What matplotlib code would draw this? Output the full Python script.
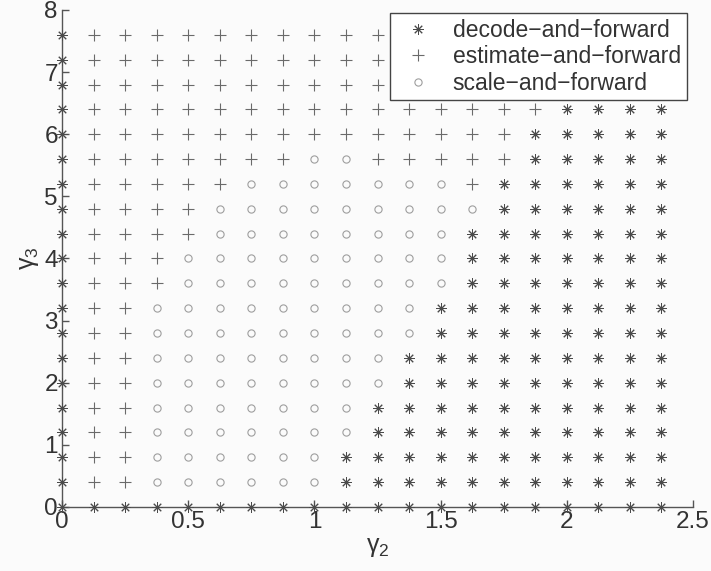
import matplotlib
matplotlib.use("Agg")
import matplotlib.pyplot as plt
import numpy as np

plt.rcParams['font.family'] = ['Liberation Sans', 'DejaVu Sans']
plt.rcParams['mathtext.fontset'] = 'custom'
plt.rcParams['mathtext.rm'] = 'Liberation Sans'
plt.rcParams['mathtext.it'] = 'Liberation Sans'

# grid of (gamma_2, gamma_3) values
gamma2 = [0, 0.125, 0.25, 0.375, 0.5, 0.625, 0.75, 0.875, 1.0, 1.125,
          1.25, 1.375, 1.5, 1.625, 1.75, 1.875, 2.0, 2.125, 2.25, 2.375]
gamma3 = [7.6, 7.2, 6.8, 6.4, 6.0, 5.6, 5.2, 4.8, 4.4, 4.0,
          3.6, 3.2, 2.8, 2.4, 2.0, 1.6, 1.2, 0.8, 0.4, 0.0]

# best scheme per grid point, one string per gamma3 row (top row first)
# D = decode-and-forward, E = estimate-and-forward, S = scale-and-forward
best_scheme = [
    "D EEEEEEEEEEEEEEEE DDD",
    "D EEEEEEEEEEEEEEEE DDD",
    "D EEEEEEEEEEEEEEEE DDD",
    "D EEEEEEEEEEEEEEE DDDD",
    "D EEEEEEEEEEEEEE DDDDD",
    "D EEEEEEE SS EEEEE DDDDD",
    "D EEEEE SSSSSSS E DDDDDD",
    "D EEEE SSSSSSSSS DDDDDD",
    "D EEEE SSSSSSSS DDDDDDD",
    "D EEE SSSSSSSSS DDDDDDD",
    "D EEE SSSSSSSSS DDDDDDD",
    "D EE SSSSSSSSS DDDDDDDD",
    "D EE SSSSSSSSS DDDDDDDD",
    "D EE SSSSSSSS DDDDDDDDD",
    "D EE SSSSSSSS DDDDDDDDD",
    "D EE SSSSSSS DDDDDDDDDD",
    "D EE SSSSSSS DDDDDDDDDD",
    "D EE SSSSSS DDDDDDDDDDD",
    "D EE SSSSSS DDDDDDDDDDD",
    "DDDDDDDDDDDDDDDDDDDD",
]
best_scheme = [r.replace(' ', '') for r in best_scheme]

labels = {'D': 'decode\u2212and\u2212forward',
          'E': 'estimate\u2212and\u2212forward',
          'S': 'scale\u2212and\u2212forward'}

fig = plt.figure(figsize=(7.11, 5.71), dpi=100, facecolor='#fbfbfb')
ax = fig.add_axes([0.0872, 0.1121, 0.8875, 0.8704])
ax.set_facecolor('#fbfbfb')

styles = {
    'D': dict(marker=(8, 2, 0), markersize=7.5, color='#4a4a4a', mew=0.7),
    'E': dict(marker='+', markersize=8, color='#6a6a6a', mew=0.8),
    'S': dict(marker='o', markersize=5.2, color='#9e9e9e', mew=0.8, mfc='none'),
}

for key in ['D', 'E', 'S']:
    xs, ys = [], []
    for i, row in enumerate(best_scheme):
        for j, c in enumerate(row):
            if c == key:
                xs.append(gamma2[j])
                ys.append(gamma3[i])
    ax.plot(xs, ys, linestyle='none', label=labels[key], clip_on=False,
            zorder=3, **styles[key])

ax.set_xlim(0, 2.5)
ax.set_ylim(0, 8)
ax.set_xticks([0, 0.5, 1, 1.5, 2, 2.5])
ax.set_xticklabels(['0', '0.5', '1', '1.5', '2', '2.5'])
ax.set_yticks(range(9))

for s in ['top', 'right']:
    ax.spines[s].set_visible(False)
for s in ['left', 'bottom']:
    ax.spines[s].set_color('#555555')
    ax.spines[s].set_linewidth(1.0)
ax.tick_params(direction='in', length=5, width=1, color='#555555',
               labelsize=17.5, labelcolor='#333333', pad=3)

ax.set_xlabel('\u03b3$_2$', fontsize=18, color='#333333', labelpad=1)
ax.set_ylabel('\u03b3$_3$', fontsize=18, color='#333333', labelpad=2)

leg = ax.legend(loc='upper right', bbox_to_anchor=(0.990, 0.994),
                borderaxespad=0, fontsize=16.5, frameon=True, fancybox=False,
                borderpad=0.25, handlelength=2.0, handletextpad=0.5,
                labelspacing=0.15, framealpha=1)
leg.get_frame().set_edgecolor('#444444')
leg.get_frame().set_linewidth(1.0)
leg.get_frame().set_facecolor('white')
for t in leg.get_texts():
    t.set_color('#333333')
leg.set_zorder(5)

fig.savefig('out.png', dpi=100, facecolor=fig.get_facecolor())
